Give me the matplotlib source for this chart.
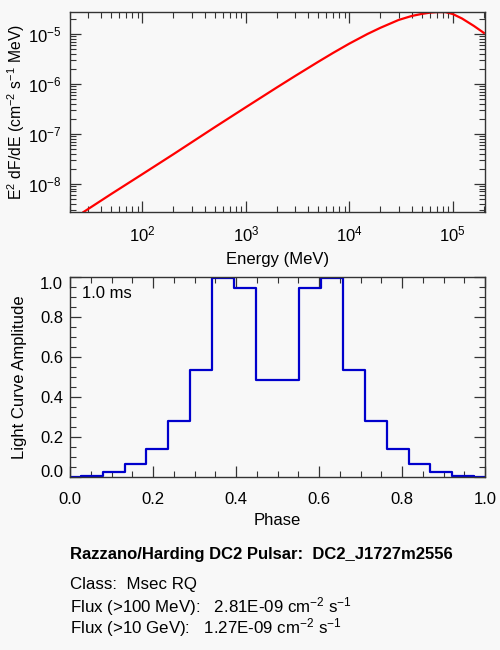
import numpy as np
import matplotlib
matplotlib.use("Agg")
import matplotlib.pyplot as plt
from matplotlib.ticker import LogLocator, MultipleLocator

plt.rcParams['font.family'] = ['Liberation Sans', 'DejaVu Sans']
plt.rcParams['mathtext.fontset'] = 'custom'
plt.rcParams['mathtext.rm'] = 'Liberation Sans'
plt.rcParams['mathtext.it'] = 'Liberation Sans:italic'
plt.rcParams['mathtext.bf'] = 'Liberation Sans:bold'

# spectrum (MeV, E^2 dF/dE)
energy = [27, 50, 100, 200, 500, 1000, 2000, 3000, 5000, 7000, 10000, 15000,
          20000, 30000, 40000, 50000, 60000, 70000, 85000, 100000, 123000,
          160000, 200000]
e2dfde = [2.7e-9, 6.2e-9, 1.55e-8, 3.9e-8, 1.35e-7, 3.4e-7, 8.5e-7, 1.44e-6,
          2.76e-6, 4.19e-6, 6.4e-6, 1.0e-5, 1.33e-5, 1.91e-5, 2.29e-5,
          2.52e-5, 2.67e-5, 2.74e-5, 2.74e-5, 2.51e-5, 2.04e-5, 1.45e-5,
          1.05e-5]

# light curve, 19 phase bins plus the wrapped first bin
phase = [k / 19 for k in range(20)]
amplitude = [0.0, 0.003, 0.025, 0.063, 0.14, 0.278, 0.533, 0.995, 0.948,
             0.483, 0.483, 0.948, 0.995, 0.533, 0.278, 0.14, 0.063, 0.025,
             0.003, 0.0]

info_title = "Razzano/Harding DC2 Pulsar:  DC2_J1727m2556"
info_lines = ["Class:  Msec RQ",
              r"Flux (>100 MeV):   2.81E-09 cm$^{-2}$ s$^{-1}$",
              r"Flux (>10 GeV):   1.27E-09 cm$^{-2}$ s$^{-1}$"]

bg = '#f8f8f8'
fs = 12
fig = plt.figure(figsize=(5, 6.5), dpi=100, facecolor=bg)

def style_axes(ax):
    ax.set_facecolor(bg)
    for s in ax.spines.values():
        s.set_color('#333333')
        s.set_linewidth(1.0)
    ax.tick_params(which='both', direction='in', top=True, right=True,
                   colors='#333333', labelcolor='black', labelsize=fs)
    ax.tick_params(which='major', length=8, width=0.9)
    ax.tick_params(which='minor', length=4, width=0.8)

# top: spectrum
ax1 = fig.add_axes([0.14, 0.6734, 0.83, 0.3077])
style_axes(ax1)
ax1.loglog(energy, e2dfde, color='#ff0000', lw=1.6)
ax1.set_xlim(20, 2.05e5)
ax1.set_ylim(2.67e-9, 2.72e-5)
ax1.xaxis.set_major_locator(LogLocator(base=10, numticks=10))
ax1.xaxis.set_minor_locator(LogLocator(base=10, subs=np.arange(2, 10), numticks=20))
ax1.yaxis.set_major_locator(LogLocator(base=10, numticks=10))
ax1.yaxis.set_minor_locator(LogLocator(base=10, subs=np.arange(2, 10), numticks=20))
ax1.tick_params(axis='x', which='major', pad=9)
ax1.tick_params(axis='y', which='major', pad=6)
ax1.set_xlabel('Energy (MeV)', fontsize=fs, labelpad=5)
ax1.set_ylabel(r'E$^2$ dF/dE (cm$^{-2}$ s$^{-1}$ MeV)', fontsize=11.3, labelpad=1)

# bottom: light curve
ax2 = fig.add_axes([0.14, 0.2666, 0.83, 0.3068])
style_axes(ax2)
ax2.step(phase, amplitude, where='mid', color='#0000cc', lw=1.6)
ax2.set_xlim(0, 1)
ax2.set_ylim(0, 1)
ax2.xaxis.set_major_locator(MultipleLocator(0.2))
ax2.xaxis.set_minor_locator(MultipleLocator(0.05))
ax2.yaxis.set_major_locator(MultipleLocator(0.2))
ax2.yaxis.set_minor_locator(MultipleLocator(0.05))
ax2.xaxis.set_major_formatter(plt.FormatStrFormatter('%.1f'))
ax2.yaxis.set_major_formatter(plt.FormatStrFormatter('%.1f'))
ax2.tick_params(axis='x', which='major', pad=11)
ax2.tick_params(axis='y', which='major', pad=5)
fig.canvas.draw()
# end labels sit inside the axis range, like the original
for lab in ax2.get_yticklabels():
    if lab.get_text() == '1.0':
        lab.set_va('top')
    elif lab.get_text() == '0.0':
        lab.set_va('baseline')
ax2.set_xlabel('Phase', fontsize=fs, labelpad=4)
ax2.set_ylabel('Light Curve Amplitude', fontsize=fs, labelpad=9)
ax2.text(0.028, 0.92, '1.0 ms', transform=ax2.transAxes, fontsize=fs,
         va='center', ha='left')

# info block
fig.text(0.14, 1 - 554 / 650, info_title, fontsize=12, fontweight='bold', va='center')
for y, line in zip([584, 607, 628], info_lines):
    fig.text(0.14, 1 - y / 650, line, fontsize=12.2, va='center')

fig.savefig('out.png', dpi=100, facecolor=bg)
